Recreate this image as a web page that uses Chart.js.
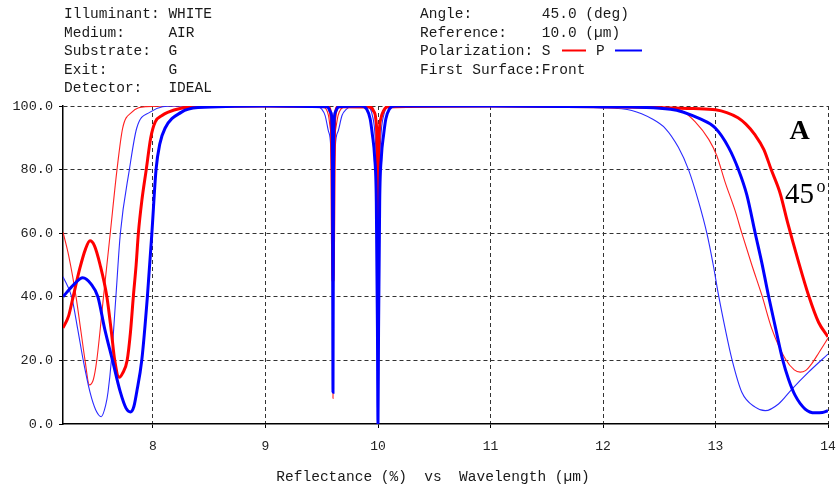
<!DOCTYPE html>
<html>
<head>
<meta charset="utf-8">
<script src="https://cdn.jsdelivr.net/npm/chart.js@4"></script>
<style>
  body { margin: 0; background: #fff; }
  canvas { display: block; }
</style>
</head>
<body>
<canvas id="refChart" width="839" height="494"></canvas>
<script>
// S polarization, thick trace
const sThickWl = [7.2, 7.25, 7.29, 7.35, 7.40, 7.44, 7.48, 7.53, 7.59, 7.63, 7.66, 7.70, 7.73, 7.77, 7.80, 7.825, 7.85, 7.87, 7.90, 7.94, 7.98, 8.02, 8.08, 8.13, 8.25, 8.4, 9.0,
  9.55, 9.585, 9.6, 9.615, 9.65, 9.93, 9.96, 9.98, 9.99, 9.997, 10.0, 10.003, 10.01, 10.025, 10.05, 10.08, 11.0,
  12.0, 12.5, 12.8, 13.0, 13.1, 13.2, 13.27, 13.35, 13.43, 13.495, 13.575, 13.64, 13.738, 13.827, 13.916, 14.0];
const sThickR = [30.2, 34, 40, 49, 55, 57.6, 56, 50, 40, 29, 20, 14.7, 16, 20, 29, 40, 50, 60, 70, 80, 90, 95, 97, 98, 99.3, 99.8, 100,
  99.8, 96, 45, 96, 99.8, 99.7, 98.5, 96, 90, 70, 39.5, 70, 90, 96, 98.5, 99.7, 100,
  99.8, 99.5, 99.2, 98.8, 97.9, 96.3, 94.3, 91, 86.3, 80, 72.5, 63.5, 51, 40.5, 32, 27.4];

// S polarization, thin trace
const sThinWl = [7.2, 7.25, 7.316, 7.36, 7.396, 7.434, 7.47, 7.50, 7.56, 7.62, 7.68, 7.73, 7.81, 7.94, 8.2,
  9.5, 9.54, 9.56, 9.58, 9.59, 9.6, 9.61, 9.62, 9.645, 9.67, 9.72, 9.9, 9.96, 9.99, 10.0, 10.01, 10.04, 10.1, 11.0,
  12.0, 12.5, 12.7, 12.82, 12.94, 13.01, 13.086, 13.175, 13.234, 13.323, 13.412, 13.5, 13.62, 13.7, 13.753, 13.8, 13.856, 13.92, 14.0];
const sThinR = [60.3, 53, 40, 29, 20, 12.3, 14, 20, 40, 60, 80, 93, 98, 99.8, 100,
  99.8, 99, 97, 92, 86, 8, 86, 92, 97, 99, 99.8, 99.8, 98, 90, 60, 90, 98, 99.8, 100,
  100, 99.6, 98.5, 95, 89.5, 84.5, 76, 67, 60, 50, 40.5, 30, 20.5, 17, 16.3, 16.8, 19, 22.5, 27];

// P polarization, thick trace
const pThickWl = [7.2, 7.3, 7.375, 7.45, 7.51, 7.57, 7.64, 7.71, 7.76, 7.80, 7.83, 7.855, 7.90, 7.95, 7.99, 8.027, 8.06, 8.107, 8.25, 8.4, 9.0,
  9.55, 9.58, 9.595, 9.6, 9.605, 9.62, 9.65, 9.85, 9.9, 9.93, 9.95, 9.97, 9.985, 9.995, 10.0, 10.005, 10.015, 10.03, 10.05, 10.07, 10.1, 10.15, 11.0,
  12.0, 12.6, 12.86, 13.0, 13.116, 13.204, 13.279, 13.353, 13.41, 13.47, 13.535, 13.595, 13.65, 13.708, 13.797, 13.886, 13.95, 14.0];
const pThickR = [40, 44, 46, 44, 40, 30, 20, 10, 5, 3.8, 5.5, 10, 20, 40, 60, 80, 88, 93, 98, 99.5, 100,
  99.8, 98, 90, 10, 90, 98, 99.8, 100, 99, 96, 91, 84, 70, 30, 0, 30, 70, 84, 91, 96, 99, 100, 100,
  99.8, 99, 96, 93, 87, 80, 72, 60, 51, 40.5, 30, 20.5, 14, 9, 4.7, 3.5, 3.6, 4.2];

// P polarization, thin trace
const pThinWl = [7.2, 7.277, 7.33, 7.38, 7.44, 7.49, 7.54, 7.58, 7.60, 7.63, 7.67, 7.71, 7.79, 7.855, 7.97, 8.2,
  9.46, 9.5, 9.53, 9.56, 9.58, 9.595, 9.6, 9.605, 9.62, 9.645, 9.68, 9.72, 9.76, 9.9, 9.95, 9.975, 9.99, 10.0, 10.01, 10.025, 10.05, 10.1, 11.0,
  11.5, 11.96, 12.256, 12.434, 12.553, 12.67, 12.76, 12.849, 12.923, 12.98, 13.027, 13.086, 13.145, 13.234, 13.353, 13.442, 13.56, 13.68, 13.827, 14.0];
const pThinR = [46.3, 40, 30, 20, 10, 4.5, 2.3, 6, 10, 20, 40, 60, 80, 93, 98, 100,
  99.8, 99, 97, 92, 87, 60, 33, 60, 87, 92, 97, 99, 99.8, 99.8, 97, 90, 75, 32, 75, 90, 97, 99.8, 100,
  100, 99.5, 98.6, 96, 93, 87, 80, 70, 60, 50, 40.5, 30, 20.5, 10, 5.3, 4.2, 6.3, 11, 16.3, 22];

const xTicks = [8, 9, 10, 11, 12, 13, 14];
const yTicks = [0, 20, 40, 60, 80, 100];

const headerLeft = ['Illuminant: WHITE', 'Medium:     AIR', 'Substrate:  G', 'Exit:       G', 'Detector:   IDEAL'];
const headerRight = ['Angle:        45.0 (deg)', 'Reference:    10.0 (\u00b5m)', 'Polarization: S', 'First Surface:Front'];
const axisTitle = 'Reflectance (%)  vs  Wavelength (\u00b5m)';

const MONO = '"Liberation Mono", "DejaVu Sans Mono", monospace';

function toPoints(wl, r) {
  return wl.map((w, i) => ({ x: w, y: r[i] }));
}

function trace(label, wl, r, color, width) {
  return {
    label: label,
    data: toPoints(wl, r),
    borderColor: color,
    borderWidth: width,
    pointRadius: 0,
    fill: false,
    cubicInterpolationMode: 'monotone'
  };
}

const headerPlugin = {
  id: 'header',
  afterDraw(chart) {
    const c = chart.ctx;
    c.save();
    c.fillStyle = '#1a1a1a';
    c.font = '14.5px ' + MONO;
    c.textBaseline = 'middle';
    c.textAlign = 'left';
    const rows = [14, 33, 51.5, 70, 88.5];
    headerLeft.forEach((t, i) => c.fillText(t, 64, rows[i]));
    headerRight.forEach((t, i) => c.fillText(t, 420, rows[i]));
    c.fillText('P', 596, rows[2]);

    // legend swatches
    c.lineWidth = 2;
    c.strokeStyle = '#ff0000';
    c.beginPath(); c.moveTo(562, 50.5); c.lineTo(586, 50.5); c.stroke();
    c.strokeStyle = '#0000ff';
    c.beginPath(); c.moveTo(615, 50.5); c.lineTo(642, 50.5); c.stroke();

    // axis title
    c.textAlign = 'center';
    c.fillText(axisTitle, 433, 477);

    // annotations
    c.fillStyle = '#000';
    c.textBaseline = 'alphabetic';
    c.font = 'bold 28px "Liberation Serif", serif';
    c.fillText('A', 799.5, 139);
    c.font = '29px "Liberation Serif", serif';
    c.textAlign = 'left';
    c.fillText('45', 785, 203);
    c.font = '18px "Liberation Serif", serif';
    c.fillText('o', 816.5, 192);
    c.restore();
  }
};

const ctx = document.getElementById('refChart').getContext('2d');

new Chart(ctx, {
  type: 'line',
  data: {
    datasets: [
      trace('P thick', pThickWl, pThickR, '#0000ff', 3),
      trace('S thick', sThickWl, sThickR, '#ff0000', 3),
      trace('P thin', pThinWl, pThinR, '#2a2aff', 1.1),
      trace('S thin', sThinWl, sThinR, '#ff2020', 1.1)
    ]
  },
  options: {
    responsive: false,
    animation: false,
    devicePixelRatio: 1,
    layout: { padding: { top: 106, right: 11, left: 0, bottom: 0 } },
    plugins: {
      legend: { display: false },
      tooltip: { enabled: false }
    },
    scales: {
      x: {
        type: 'linear',
        min: 7.2,
        max: 14,
        afterBuildTicks: scale => { scale.ticks = xTicks.map(v => ({ value: v })); },
        afterFit: scale => {
          scale.height = 70;
          scale.paddingLeft = 0;
          scale.paddingRight = 0;
        },
        ticks: {
          color: '#222',
          font: { family: MONO, size: 13 },
          padding: 11,
          maxRotation: 0,
          callback: v => String(v)
        },
        grid: {
          color: '#333',
          lineWidth: 1,
          tickLength: 4,
          tickColor: '#000',
          tickBorderDash: []
        },
        border: { display: true, color: '#000', width: 1.5, dash: [4, 3] }
      },
      y: {
        min: 0,
        max: 100,
        afterBuildTicks: scale => { scale.ticks = yTicks.map(v => ({ value: v })); },
        afterFit: scale => { scale.width = 63; },
        ticks: {
          color: '#222',
          font: { family: MONO, size: 13.5 },
          padding: 6,
          callback: v => v.toFixed(1)
        },
        grid: {
          color: c => (c.tick && c.tick.value === 0 ? 'rgba(0,0,0,0)' : '#333'),
          lineWidth: 1,
          tickLength: 4,
          tickColor: '#000',
          tickBorderDash: []
        },
        border: { display: true, color: '#000', width: 1.5, dash: [4, 3] }
      }
    }
  },
  plugins: [headerPlugin]
});
</script>
</body>
</html>
